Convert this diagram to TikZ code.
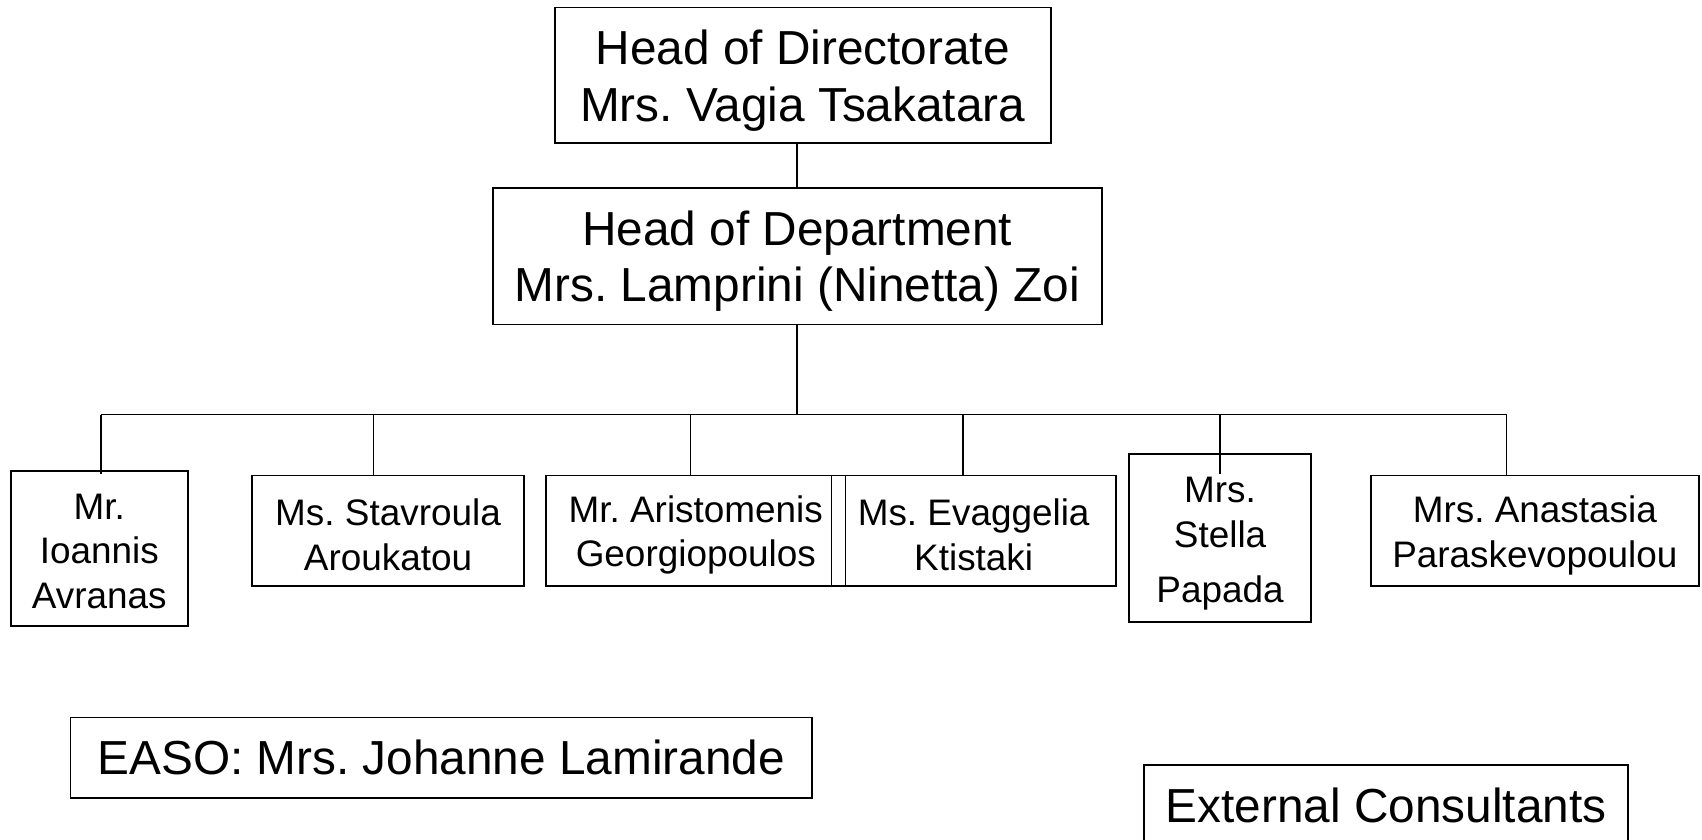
\documentclass[tikz,border=0pt]{standalone}
\usepackage{fontspec}
\setmainfont{Liberation Sans}
\frenchspacing
\newcommand\tstrut[1]{\rule{0pt}{#1}}
\begin{document}
\begin{tikzpicture}[x=0.5pt,y=-0.5pt,
  box/.style={draw=black, line width=0.8pt, inner sep=0pt, align=center},
  bigbox/.style={box, font=\fontsize{22pt}{26pt}\selectfont},
  smallbox/.style={box, font=\fontsize{17pt}{20.5pt}\selectfont},
  conn/.style={draw=black, line width=0.75pt}]
\useasboundingbox (0,0) rectangle (1568,773);
\clip (0,0) rectangle (1568,773);
\fill[white] (0,0) rectangle (1568,773);

\node[bigbox, minimum width=228.5pt, minimum height=62.5pt] (hd) at (739.5,69.5)
  {\tstrut{20.75pt}Head of Directorate\\Mrs. Vagia Tsakatara};
\node[bigbox, minimum width=280.5pt, minimum height=63pt] (hdep) at (734.5,236)
  {\tstrut{20.5pt}Head of Department\\Mrs. Lamprini (Ninetta) Zoi};

\node[smallbox, minimum width=81.5pt, minimum height=71.5pt] (b1) at (91.5,505.5)
  {\tstrut{14.2pt}Mr.\\Ioannis\\Avranas};
\node[smallbox, minimum width=125.5pt, minimum height=51pt] (b2) at (357.5,489)
  {\tstrut{16.2pt}Ms. Stavroula\\Aroukatou};
\node[smallbox, minimum width=138pt, minimum height=51pt] (b3) at (641,489)
  {\tstrut{16.2pt}Mr. Aristomenis\\Georgiopoulos};
\node[smallbox, minimum width=131pt, minimum height=51pt] (b4) at (897,489)
  {\tstrut{16.2pt}Ms. Evaggelia\\Ktistaki};
\node[smallbox, minimum width=84pt, minimum height=77.5pt] (b5) at (1124,495.5)
  {\tstrut{17.2pt}Mrs.\\Stella\\[5pt]Papada};
\node[smallbox, minimum width=151pt, minimum height=51pt] (b6) at (1414,489)
  {\tstrut{16.7pt}Mrs. Anastasia\\Paraskevopoulou};

\node[bigbox, minimum width=341.5pt, minimum height=37pt] (easo) at (406.5,698)
  {EASO: Mrs. Johanne Lamirande};
\node[bigbox, minimum width=223pt, minimum height=37pt] (ext) at (1277,742)
  {External Consultants};

% connectors
\path[conn] (hd.south -| hdep.north) -- (hdep.north);
\coordinate (bus) at (734.5,382);
\coordinate (t1) at (93,382);
\coordinate (t2) at (344,382);
\coordinate (t3) at (636,382);
\coordinate (t4) at (887,382);
\coordinate (t5) at (1124,382);
\coordinate (t6) at (1388,382);
\path[conn] (hdep.south) -- (bus);
\path[conn] (t1) -- (t6);
\path[conn] (t1) -- ++(0,55);
\path[conn] (t2) -- (t2 |- b2.north);
\path[conn] (t3) -- (t3 |- b3.north);
\path[conn] (t4) -- (t4 |- b4.north);
\path[conn] (t5) -- ++(0,55);
\path[conn] (t6) -- (t6 |- b6.north);
\end{tikzpicture}
\end{document}
